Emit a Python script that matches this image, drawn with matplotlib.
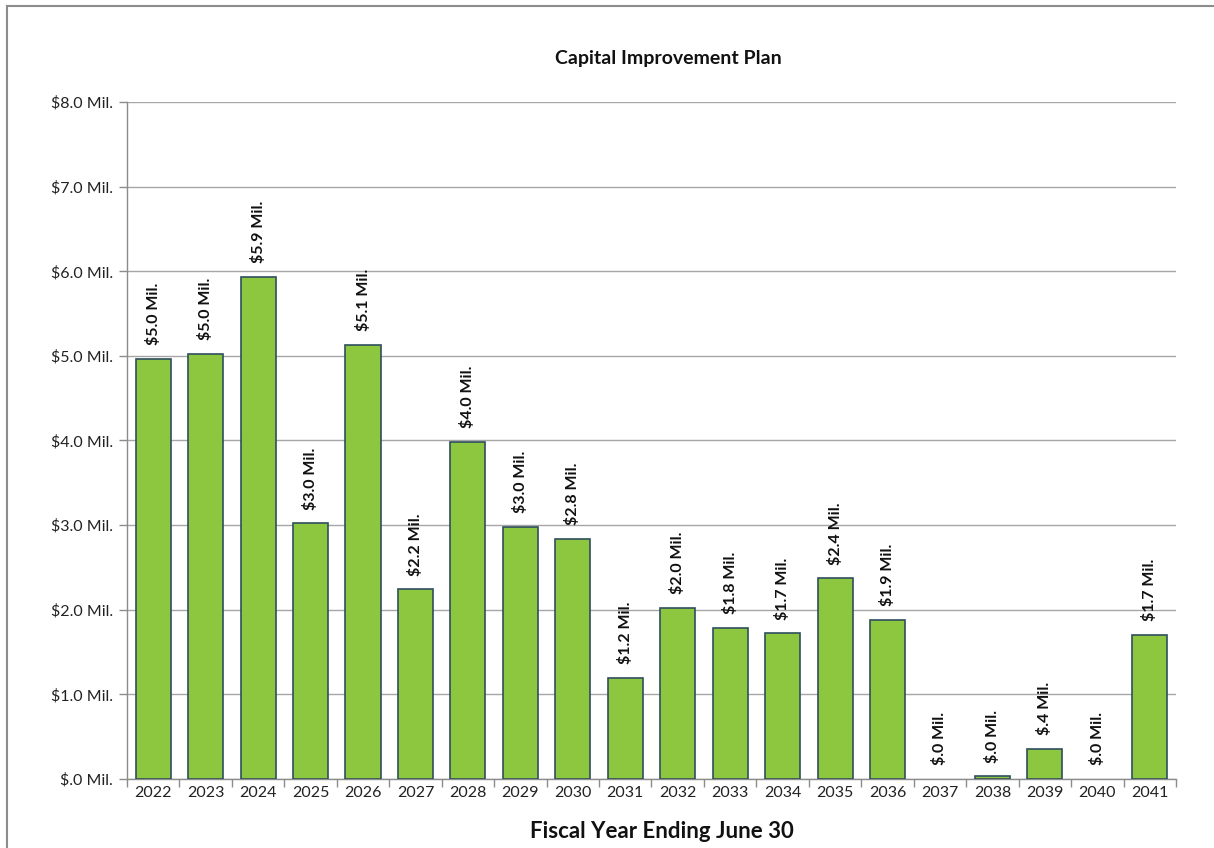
import matplotlib.pyplot as plt
from matplotlib.lines import Line2D
import numpy as np

plt.rcParams['font.family'] = ['Lato', 'DejaVu Sans']

years = [str(y) for y in range(2022, 2042)]
spend = [4.96, 5.02, 5.93, 3.02, 5.13, 2.24, 3.98, 2.98, 2.84, 1.19,
         2.02, 1.79, 1.72, 2.37, 1.88, 0.0, 0.03, 0.36, 0.0, 1.70]
y_ticks = [0, 1, 2, 3, 4, 5, 6, 7, 8]


def mil(v):
    # Excel-style "$#.0 Mil." -> no leading zero below one million
    s = f"{v:.1f}"
    if s.startswith("0"):
        s = s[1:]
    return f"${s} Mil."


fig = plt.figure(figsize=(12.14, 8.48), dpi=100)
ax = fig.add_axes([0.1046, 0.0814, 0.8641, 0.7983])

x = np.arange(len(years))
edge_w = [1.2 if v > 0 else 0 for v in spend]
ax.bar(x, spend, width=0.67, color='#8DC63F', edgecolor='#2F4F5F', linewidth=edge_w, zorder=3)

for xi, v in zip(x, spend):
    ax.annotate(mil(v), (xi, v), xytext=(0, 10), textcoords='offset points',
                rotation=90, ha='center', va='bottom', fontsize=11.5,
                fontweight='bold', color='#111111')

ax.set_xlim(-0.5, len(years) - 0.5)
ax.set_ylim(0, 8)
ax.set_yticks(y_ticks)
ax.set_yticklabels([mil(t) for t in y_ticks], fontsize=11.5, color='#222222')
ax.yaxis.grid(True, color='#A6A6A6', linewidth=1.0, zorder=0)

# category labels centred, tick marks on the boundaries
ax.set_xticks(x)
ax.set_xticklabels(years, fontsize=11.5, color='#222222')
ax.tick_params(axis='x', length=0, pad=5)
ax.set_xticks(np.arange(len(years) + 1) - 0.5, minor=True)
ax.tick_params(axis='x', which='minor', length=6, color='#8C8C8C', width=1)
ax.tick_params(axis='y', length=6, color='#8C8C8C', width=1, pad=4)

for side in ('top', 'right'):
    ax.spines[side].set_visible(False)
for side in ('left', 'bottom'):
    ax.spines[side].set_color('#8C8C8C')
    ax.spines[side].set_linewidth(1.0)

fig.text(0.5505, 0.9316, 'Capital Improvement Plan', ha='center', va='center',
         fontsize=14, fontweight='bold', color='#111111')
fig.text(0.5455, 0.019, 'Fiscal Year Ending June 30', ha='center', va='center',
         fontsize=16, fontweight='bold', color='#111111')

# chart frame edges
fig.add_artist(Line2D([0.0058, 0.0058], [0, 0.993], color='#8C8C8C', linewidth=1.5))
fig.add_artist(Line2D([0.0058, 1], [0.993, 0.993], color='#8C8C8C', linewidth=1.5))

fig.savefig('out.png', dpi=100)
